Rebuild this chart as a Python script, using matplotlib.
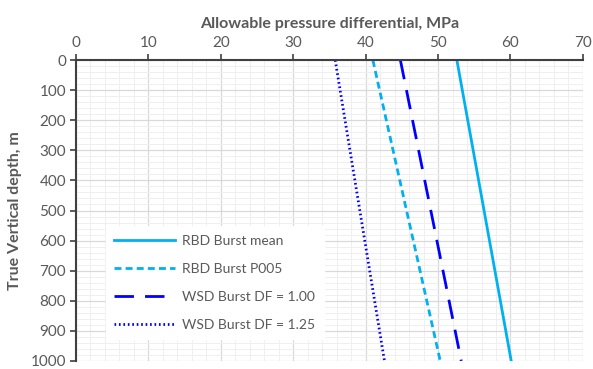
import matplotlib.pyplot as plt
from matplotlib.ticker import MultipleLocator

plt.rcParams['font.family'] = ['Lato', 'DejaVu Sans']

depth = [0, 1000]
rbd_mean = [52.6, 60.1]
rbd_p005 = [41.0, 50.3]
wsd_100 = [44.8, 53.2]
wsd_125 = [35.8, 42.6]

grey = '#595959'

fig = plt.figure(figsize=(5.93, 3.69), dpi=100)
ax = fig.add_axes([0.128, 0.022, 0.855, 0.815])

ax.plot(rbd_mean, depth, color='#00B0F0', lw=2.0, label='RBD Burst mean')
ax.plot(rbd_p005, depth, color='#00B0F0', lw=2.0, ls=(0, (2.5, 1.5)), label='RBD Burst P005')
ax.plot(wsd_100, depth, color='#0000FF', lw=2.0, ls=(0, (7, 4)), label='WSD Burst DF = 1.00')
ax.plot(wsd_125, depth, color='#0000FF', lw=2.0, ls=(0, (0.6, 1.0)), label='WSD Burst DF = 1.25')

ax.set_xlim(0, 70)
ax.set_ylim(1000, 0)
ax.xaxis.tick_top()
ax.xaxis.set_label_position('top')
ax.xaxis.set_major_locator(MultipleLocator(10))
ax.xaxis.set_minor_locator(MultipleLocator(2))
ax.yaxis.set_major_locator(MultipleLocator(100))
ax.yaxis.set_minor_locator(MultipleLocator(20))

ax.grid(which='major', color='#d9d9d9', lw=0.9)
ax.grid(which='minor', color='#efefef', lw=0.7)
ax.set_axisbelow(True)

for s in ['right', 'bottom']:
    ax.spines[s].set_visible(False)
for s in ['top', 'left']:
    ax.spines[s].set_color('#404040')
    ax.spines[s].set_linewidth(1.5)

ax.tick_params(which='major', length=4, width=1.2, color='#404040', labelsize=11, labelcolor=grey, pad=3)
ax.tick_params(which='minor', length=0)

ax.set_xlabel('Allowable pressure differential, MPa', fontsize=11.5, fontweight='bold', color=grey, labelpad=6)
ax.set_ylabel('True Vertical depth, m', fontsize=11.5, fontweight='bold', color=grey, labelpad=6)

leg = ax.legend(loc='lower left', bbox_to_anchor=(0.045, 0.05), frameon=True, fancybox=False,
                edgecolor='white', framealpha=1.0, fontsize=10, handlelength=4.4,
                labelspacing=1.15, borderpad=0.6, handletextpad=0.5)
for t in leg.get_texts():
    t.set_color(grey)

fig.savefig('out.png', dpi=100)
